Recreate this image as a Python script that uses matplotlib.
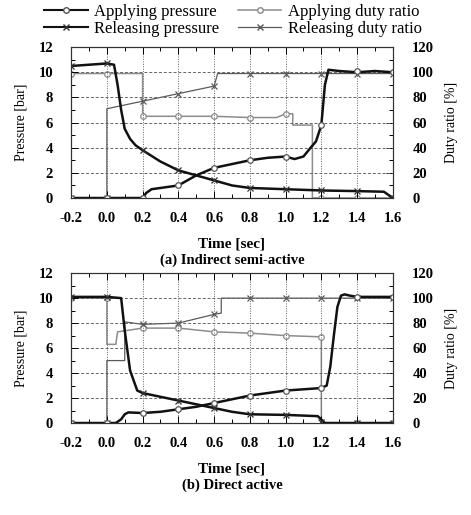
import numpy as np
import matplotlib
matplotlib.use("Agg")
import matplotlib.pyplot as plt
from matplotlib.lines import Line2D
from matplotlib.ticker import MultipleLocator, FormatStrFormatter

plt.rcParams['font.family'] = ['Liberation Serif', 'DejaVu Serif']
plt.rcParams['axes.unicode_minus'] = False

# marker times (every 0.2 s)
mark_t = [-0.2, 0.0, 0.2, 0.4, 0.6, 0.8, 1.0, 1.2, 1.4, 1.6]

# ---- (a) Indirect semi-active ----
a_app_p_t = [-0.2, 0.2, 0.22, 0.25, 0.3, 0.4, 0.5, 0.6, 0.7, 0.8, 0.9, 1.0, 1.05,
             1.1, 1.14, 1.17, 1.2, 1.22, 1.24, 1.3, 1.4, 1.5, 1.6]
a_app_p_v = [0, 0, 0.4, 0.7, 0.8, 1.0, 1.8, 2.4, 2.7, 3.0, 3.2, 3.3, 3.1,
             3.3, 4.0, 4.5, 5.8, 9.0, 10.2, 10.1, 10.0, 10.1, 10.0]
a_app_p_m = [0, 0, 0, 1.0, 2.4, 3.0, 3.3, 5.8, 10.1, 10.0]

a_rel_p_t = [-0.2, -0.1, 0.0, 0.04, 0.06, 0.08, 0.1, 0.13, 0.16, 0.2, 0.3, 0.4,
             0.5, 0.6, 0.7, 0.8, 1.0, 1.2, 1.4, 1.55, 1.6]
a_rel_p_v = [10.5, 10.6, 10.7, 10.6, 9.0, 7.0, 5.5, 4.7, 4.2, 3.8, 2.9, 2.2,
             1.8, 1.4, 1.0, 0.8, 0.7, 0.6, 0.55, 0.5, 0.0]
a_rel_p_m = [10.5, 10.7, 3.8, 2.2, 1.4, 0.8, 0.7, 0.6, 0.55, 0.0]

a_app_d_t = [-0.2, 0.2, 0.2, 0.6, 0.8, 0.95, 1.0, 1.04, 1.04, 1.15, 1.15, 1.6]
a_app_d_v = [99, 99, 65, 65, 64, 64, 67, 67, 58, 58, 0, 0]
a_app_d_m = [99, 99, 65, 65, 65, 64, 67, 0, 0, 0]

a_rel_d_t = [-0.2, 0.0, 0.0, 0.6, 0.62, 1.6]
a_rel_d_v = [0, 0, 71, 89, 99, 99]
a_rel_d_m = [0, 0, 77, 83, 89, 99, 99, 99, 99, 99]

# ---- (b) Direct active ----
b_app_p_t = [-0.2, 0.05, 0.08, 0.1, 0.12, 0.2, 0.3, 0.4, 0.5, 0.6, 0.7, 0.8, 0.9,
             1.0, 1.1, 1.2, 1.23, 1.25, 1.27, 1.29, 1.31, 1.33, 1.36, 1.4, 1.5, 1.6]
b_app_p_v = [0, 0, 0.3, 0.7, 0.85, 0.8, 0.9, 1.1, 1.3, 1.6, 1.9, 2.2, 2.4,
             2.6, 2.7, 2.8, 3.0, 4.5, 7.0, 9.3, 10.2, 10.3, 10.2, 10.1, 10.1, 10.1]
b_app_p_m = [0, 0, 0.8, 1.1, 1.6, 2.2, 2.6, 2.8, 10.1, 10.1]

b_rel_p_t = [-0.2, 0.0, 0.08, 0.1, 0.13, 0.17, 0.2, 0.3, 0.4, 0.6, 0.7, 0.8,
             1.0, 1.18, 1.22, 1.6]
b_rel_p_v = [10.1, 10.1, 10.0, 7.4, 4.2, 2.6, 2.4, 2.1, 1.8, 1.2, 0.9, 0.7,
             0.65, 0.55, 0.0, 0.0]
b_rel_p_m = [10.1, 10.1, 2.4, 1.8, 1.2, 0.7, 0.65, 0.1, 0.0, 0.0]

b_app_d_t = [-0.2, 0.0, 0.0, 0.05, 0.06, 0.2, 0.4, 0.6, 0.8, 1.0, 1.2, 1.2, 1.6]
b_app_d_v = [100, 100, 63, 63, 73, 76, 76, 73, 72, 70, 69, 0, 0]
b_app_d_m = [100, 100, 76, 76, 73, 72, 70, 69, 0, 0]

b_rel_d_t = [-0.2, 0.0, 0.0, 0.1, 0.1, 0.2, 0.4, 0.6, 0.64, 0.64, 1.6]
b_rel_d_v = [0, 0, 50, 50, 81, 79, 80, 87, 88, 100, 100]
b_rel_d_m = [0, 0, 79, 80, 87, 100, 100, 100, 100, 100]

labels = ['Applying pressure', 'Releasing pressure',
          'Applying duty ratio', 'Releasing duty ratio']

P_COL = '#111111'
AD_COL = '#8c8c8c'
RD_COL = '#5a5a5a'
tick_font = dict(family='Liberation Serif', weight='bold', size=10.5)


def panel(rect, app_p, rel_p, app_d, rel_d, caption):
    fig = plt.gcf()
    ax = fig.add_axes(rect)
    ax2 = ax.twinx()
    ax.set_zorder(ax2.get_zorder() + 1)
    ax.patch.set_visible(False)

    # duty ratio (right axis)
    t, v, m = app_d
    ax2.plot(t, v, color=AD_COL, lw=1.1)
    ax2.plot(mark_t, m, ls='none', marker='o', ms=4, mfc='white', mec=AD_COL, mew=0.9)
    t, v, m = rel_d
    ax2.plot(t, v, color=RD_COL, lw=0.9)
    ax2.plot(mark_t, m, ls='none', marker='x', ms=4, mec=RD_COL, mew=0.9)

    # pressure (left axis)
    t, v, m = app_p
    ax.plot(t, v, color=P_COL, lw=1.8)
    ax.plot(mark_t, m, ls='none', marker='o', ms=4, mfc='white', mec='#555555', mew=0.9)
    t, v, m = rel_p
    ax.plot(t, v, color=P_COL, lw=1.8)
    ax.plot(mark_t, m, ls='none', marker='x', ms=4, mec='#333333', mew=0.9)

    ax.set_xlim(-0.2, 1.6)
    ax.set_ylim(0, 12)
    ax2.set_ylim(0, 120)

    for y in [2, 4, 6, 8, 10]:
        ax.axhline(y, color='#666666', lw=0.7, ls=(0, (3, 2)), zorder=0)
    for x in [0.0, 0.2, 0.4, 0.6, 0.8, 1.0, 1.2, 1.4]:
        ax.axvline(x, color='#666666', lw=0.7, ls=(0, (1, 1.5)), zorder=0)

    ax.xaxis.set_major_locator(MultipleLocator(0.2))
    ax.xaxis.set_minor_locator(MultipleLocator(0.1))
    ax.xaxis.set_major_formatter(FormatStrFormatter('%.1f'))
    ax.yaxis.set_major_locator(MultipleLocator(2))
    ax.yaxis.set_minor_locator(MultipleLocator(1))
    ax2.yaxis.set_major_locator(MultipleLocator(20))
    ax2.yaxis.set_minor_locator(MultipleLocator(10))

    ax.tick_params(which='both', direction='in', top=True, length=5, width=0.7)
    ax.tick_params(axis='x', pad=10)
    ax.tick_params(axis='y', pad=13)
    ax.tick_params(which='minor', length=3)
    ax2.tick_params(which='both', direction='in', length=5, width=0.7, pad=14)
    ax2.tick_params(which='minor', length=3)
    for lab in ax.get_xticklabels() + ax.get_yticklabels() + ax2.get_yticklabels():
        lab.set_fontproperties(tick_font)
    for a in (ax, ax2):
        for s in a.spines.values():
            s.set_linewidth(0.8)
            s.set_color('#333333')

    ax.set_ylabel('Pressure [bar]', fontsize=10, labelpad=8)
    ax2.set_ylabel('Duty ratio [%]', fontsize=10, labelpad=8)
    ax.set_xlabel('Time [sec]', fontsize=11, fontweight='bold', labelpad=9)
    ax.text(0.5, -0.415, caption, transform=ax.transAxes, ha='center', va='center',
            fontsize=10.5, fontweight='bold')
    return ax


fig = plt.figure(figsize=(4.71, 5.15), dpi=100)

panel([0.151, 0.6155, 0.683, 0.293],
      (a_app_p_t, a_app_p_v, a_app_p_m), (a_rel_p_t, a_rel_p_v, a_rel_p_m),
      (a_app_d_t, a_app_d_v, a_app_d_m), (a_rel_d_t, a_rel_d_v, a_rel_d_m),
      '(a) Indirect semi-active')
panel([0.151, 0.1786, 0.683, 0.291],
      (b_app_p_t, b_app_p_v, b_app_p_m), (b_rel_p_t, b_rel_p_v, b_rel_p_m),
      (b_app_d_t, b_app_d_v, b_app_d_m), (b_rel_d_t, b_rel_d_v, b_rel_d_m),
      '(b) Direct active')

handles = [
    Line2D([], [], color=P_COL, lw=1.5, marker='o', ms=4, mfc='white', mec='#555555'),
    Line2D([], [], color=P_COL, lw=1.5, marker='x', ms=4, mec='#333333'),
    Line2D([], [], color=AD_COL, lw=1.1, marker='o', ms=4, mfc='white', mec=AD_COL),
    Line2D([], [], color=RD_COL, lw=0.9, marker='x', ms=4, mec=RD_COL),
]
fig.legend(handles, labels, ncol=2, loc='upper center', bbox_to_anchor=(0.495, 1.022),
           frameon=False, fontsize=12, handlelength=2.6, handletextpad=0.4,
           columnspacing=1.1, labelspacing=0.08)

fig.savefig('out.png', dpi=100)
